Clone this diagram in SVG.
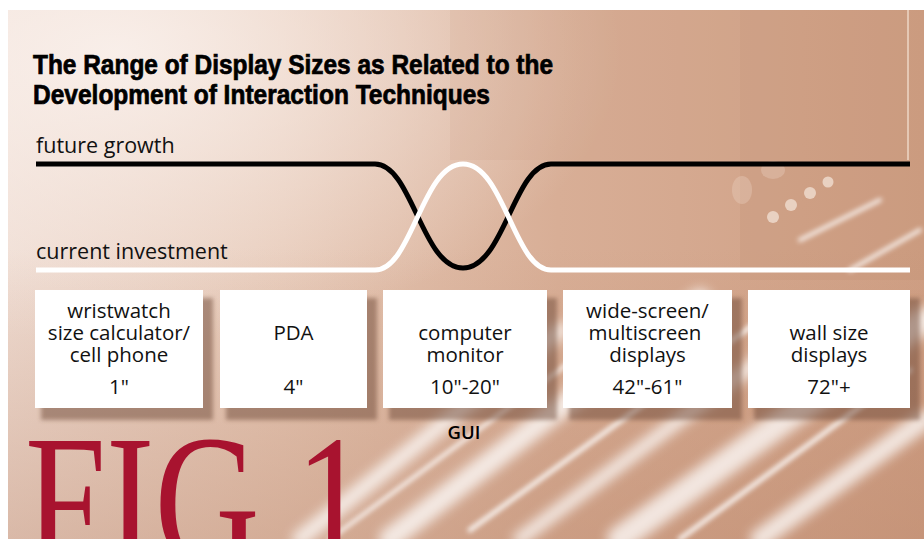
<svg xmlns="http://www.w3.org/2000/svg" width="924" height="539" viewBox="0 0 924 539">
  <defs>
    <linearGradient id="bgH" x1="0" y1="0" x2="1" y2="0">
      <stop offset="0" stop-color="#efdcd2"/>
      <stop offset="0.3" stop-color="#e6c8b6"/>
      <stop offset="0.6" stop-color="#d8ae96"/>
      <stop offset="1" stop-color="#cf9f84"/>
    </linearGradient>
    <radialGradient id="glowTL" cx="0.12" cy="0.08" r="0.55">
      <stop offset="0" stop-color="#fbf3ef" stop-opacity="0.85"/>
      <stop offset="1" stop-color="#fbf3ef" stop-opacity="0"/>
    </radialGradient>
    <linearGradient id="bottomShade" x1="0" y1="0" x2="0" y2="1">
      <stop offset="0.45" stop-color="#b98468" stop-opacity="0"/>
      <stop offset="1" stop-color="#b98468" stop-opacity="0.4"/>
    </linearGradient>
    <filter id="blur6" x="-20%" y="-50%" width="140%" height="200%">
      <feGaussianBlur stdDeviation="6"/>
    </filter>
    <filter id="blur3" x="-20%" y="-50%" width="140%" height="200%">
      <feGaussianBlur stdDeviation="2.5"/>
    </filter>
    <filter id="shadow" x="-10%" y="-10%" width="130%" height="135%">
      <feGaussianBlur stdDeviation="2"/>
    </filter>
    <style>
      .box { fill: #ffffff; }
      .shd { fill: #6e4a38; opacity: 0.5; filter: url(#shadow); }
      .lbl { font-family: "Open Sans", "Noto Sans", sans-serif; font-size: 20.5px; fill: #111111; text-anchor: middle; }
      .axis { font-family: "Open Sans", "Noto Sans", sans-serif; font-size: 21.5px; fill: #111111; }
      .title { font-family: "Liberation Sans", Arial, sans-serif; font-weight: bold; font-size: 27px; fill: #000000; stroke: #000000; stroke-width: 0.7px; }
      .streak { fill: none; stroke: #ffffff; stroke-linecap: round; }
    </style>
  </defs>

  <!-- page / background photo approximation -->
  <rect x="0" y="0" width="924" height="539" fill="#ffffff"/>
  <g id="background">
    <rect x="8" y="10" width="916" height="529" fill="url(#bgH)"/>
    <rect x="8" y="10" width="916" height="529" fill="url(#glowTL)"/>
    <rect x="8" y="10" width="916" height="529" fill="url(#bottomShade)"/>
    <rect x="450" y="10" width="290" height="150" fill="#c99a80" opacity="0.15"/>
    <rect x="740" y="10" width="184" height="270" fill="#c08a6c" opacity="0.2"/>
    <line x1="908" y1="10" x2="908" y2="160" stroke="#ecd3c2" stroke-width="2" opacity="0.8"/>
    <g fill="#f3e2d6" opacity="0.75">
      <circle cx="773" cy="217" r="6"/>
      <circle cx="791" cy="205" r="6"/>
      <circle cx="810" cy="193" r="6"/>
      <circle cx="828" cy="182" r="5.5"/>
    </g>
    <g fill="#ecd2c2" opacity="0.35">
      <ellipse cx="773" cy="170" rx="12" ry="9"/>
      <ellipse cx="742" cy="190" rx="10" ry="14"/>
    </g>
    <g filter="url(#blur6)" opacity="0.75">
      <path class="streak" d="M300 539 L560 330" stroke-width="16"/>
      <path class="streak" d="M390 539 L700 300" stroke-width="22"/>
      <path class="streak" d="M520 539 L800 330" stroke-width="14"/>
      <path class="streak" d="M620 539 L924 320" stroke-width="26"/>
      <path class="streak" d="M760 539 L924 420" stroke-width="20"/>
    </g>
    <g filter="url(#blur3)" opacity="0.85">
      <path class="streak" d="M330 539 L600 340" stroke-width="4"/>
      <path class="streak" d="M470 530 L760 320" stroke-width="5"/>
      <path class="streak" d="M680 539 L910 370" stroke-width="5"/>
      <path class="streak" d="M800 240 L880 200" stroke-width="4"/>
      <path class="streak" d="M850 270 L920 230" stroke-width="4"/>
    </g>
  </g>

  <!-- title -->
  <g id="title">
    <text class="title" x="33" y="74" textLength="520" lengthAdjust="spacingAndGlyphs">The Range of Display Sizes as Related to the</text>
    <text class="title" x="33" y="104" textLength="457" lengthAdjust="spacingAndGlyphs">Development of Interaction Techniques</text>
  </g>

  <!-- axis labels -->
  <g id="label-future">
    <text class="axis" x="36" y="153">future growth</text>
  </g>
  <g id="label-current">
    <text class="axis" x="36" y="259">current investment</text>
  </g>

  <!-- connectors: the two crossing curves -->
  <g id="connectors" fill="none" stroke-width="5">
    <path id="curve-future" stroke="#000000" d="M36 164 H375 C412 164 422 268 463 268 C504 268 514 164 551 164 H910"/>
    <path id="curve-current" stroke="#ffffff" d="M36 270 H375 C412 270 422 164 463 164 C504 164 514 270 551 270 H910"/>
  </g>

  <!-- nodes -->
  <g id="node-wristwatch">
    <rect class="shd" x="41" y="298" width="172" height="122"/>
    <rect class="box" x="35" y="290" width="168" height="118"/>
    <text class="lbl"><tspan x="119" y="318">wristwatch</tspan><tspan x="119" y="340">size calculator/</tspan><tspan x="119" y="362">cell phone</tspan><tspan x="119" y="394">1"</tspan></text>
  </g>
  <g id="node-pda">
    <rect class="shd" x="226" y="298" width="151" height="122"/>
    <rect class="box" x="220" y="290" width="147" height="118"/>
    <text class="lbl"><tspan x="293.5" y="340">PDA</tspan><tspan x="293.5" y="394">4"</tspan></text>
  </g>
  <g id="node-monitor">
    <rect class="shd" x="389" y="298" width="168" height="122"/>
    <rect class="box" x="383" y="290" width="164" height="118"/>
    <text class="lbl"><tspan x="465" y="340">computer</tspan><tspan x="465" y="362">monitor</tspan><tspan x="465" y="394">10"-20"</tspan></text>
  </g>
  <g id="node-widescreen">
    <rect class="shd" x="569" y="298" width="173" height="122"/>
    <rect class="box" x="563" y="290" width="169" height="118"/>
    <text class="lbl"><tspan x="647.5" y="318">wide-screen/</tspan><tspan x="645" y="340">multiscreen</tspan><tspan x="647.5" y="362">displays</tspan><tspan x="647.5" y="394">42"-61"</tspan></text>
  </g>
  <g id="node-wall">
    <rect class="shd" x="754" y="298" width="166" height="122"/>
    <rect class="box" x="748" y="290" width="162" height="118"/>
    <text class="lbl"><tspan x="829" y="340">wall size</tspan><tspan x="829" y="362">displays</tspan><tspan x="829" y="394">72"+</tspan></text>
  </g>

  <g id="label-gui">
    <text x="464" y="439" font-family="Open Sans, Noto Sans, sans-serif" font-weight="600" font-size="18.5" fill="#000000" text-anchor="middle">GUI</text>
  </g>

  <g id="fig-label">
    <text x="0" y="0" transform="translate(25 566) scale(0.766 1)" font-family="Liberation Serif, Times New Roman, serif" font-size="190" fill="#a8132f">FIG 1</text>
  </g>
</svg>
